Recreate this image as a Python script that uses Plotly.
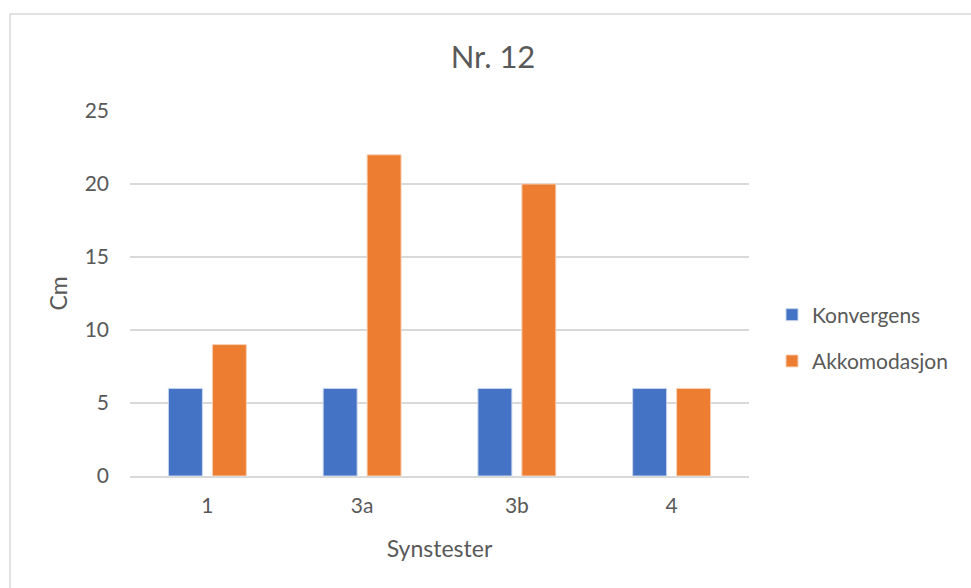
import plotly.graph_objects as go

# Data
categories = ["1", "3a", "3b", "4"]
konvergens = [6, 6, 6, 6]
akkomodasjon = [9, 22, 20, 6]
y_ticks = [0, 5, 10, 15, 20, 25]

W, H = 971, 588
L, R, T, B = 130, 222, 111, 112
pw, ph = W - L - R, H - T - B

FONT = "Lato, Carlito, Calibri, sans-serif"
TXT = "#595959"

fig = go.Figure()
fig.add_trace(go.Bar(
    name="Konvergens", x=categories, y=konvergens, legendgroup="k",
    marker=dict(color="#4472C4", line=dict(color="#C9D6EE", width=1)),
))
fig.add_trace(go.Bar(
    name="Akkomodasjon", x=categories, y=akkomodasjon, legendgroup="a",
    marker=dict(color="#ED7D31", line=dict(color="#F8D2B8", width=1)),
))

# Chart-area frame in paper coordinates
def px_x(p):
    return (p - L) / pw

def px_y(p):
    return (H - B - p) / ph

fig.add_shape(
    type="rect", xref="paper", yref="paper",
    x0=px_x(10), x1=px_x(W + 10), y0=px_y(H + 10), y1=px_y(14),
    line=dict(color="#D9D9D9", width=1.5), fillcolor="rgba(0,0,0,0)", layer="below",
)

fig.update_layout(
    width=W, height=H,
    margin=dict(l=L, r=R, t=T, b=B),
    paper_bgcolor="white", plot_bgcolor="white",
    barmode="group", bargap=0.432, bargroupgap=0.227,
    font=dict(family=FONT, color=TXT, size=21),
    title=dict(text="Nr. 12", xref="container", x=493 / W, xanchor="center",
               yref="container", y=1 - 57 / H, yanchor="middle",
               font=dict(size=31, color=TXT, family=FONT)),
    legend=dict(x=px_x(772), xanchor="left", y=px_y(338), yanchor="middle",
                font=dict(size=21, color=TXT, family=FONT),
                itemwidth=30, tracegroupgap=16, bgcolor="rgba(0,0,0,0)"),
    xaxis=dict(
        title=dict(text="Synstester", font=dict(size=23, color=TXT), standoff=25),
        showgrid=False, showline=True, linecolor="#D9D9D9", linewidth=1.5,
        ticks="", ticklabelstandoff=10, tickfont=dict(size=21, color=TXT),
    ),
    yaxis=dict(
        title=dict(text="Cm", font=dict(size=23, color=TXT), standoff=10),
        range=[0, 25], tickvals=y_ticks, showgrid=True, gridcolor="#D9D9D9",
        gridwidth=1.5, zeroline=False, showline=False, ticks="",
        ticklabelstandoff=20, tickfont=dict(size=21, color=TXT),
    ),
)

fig.write_html("out.html")
